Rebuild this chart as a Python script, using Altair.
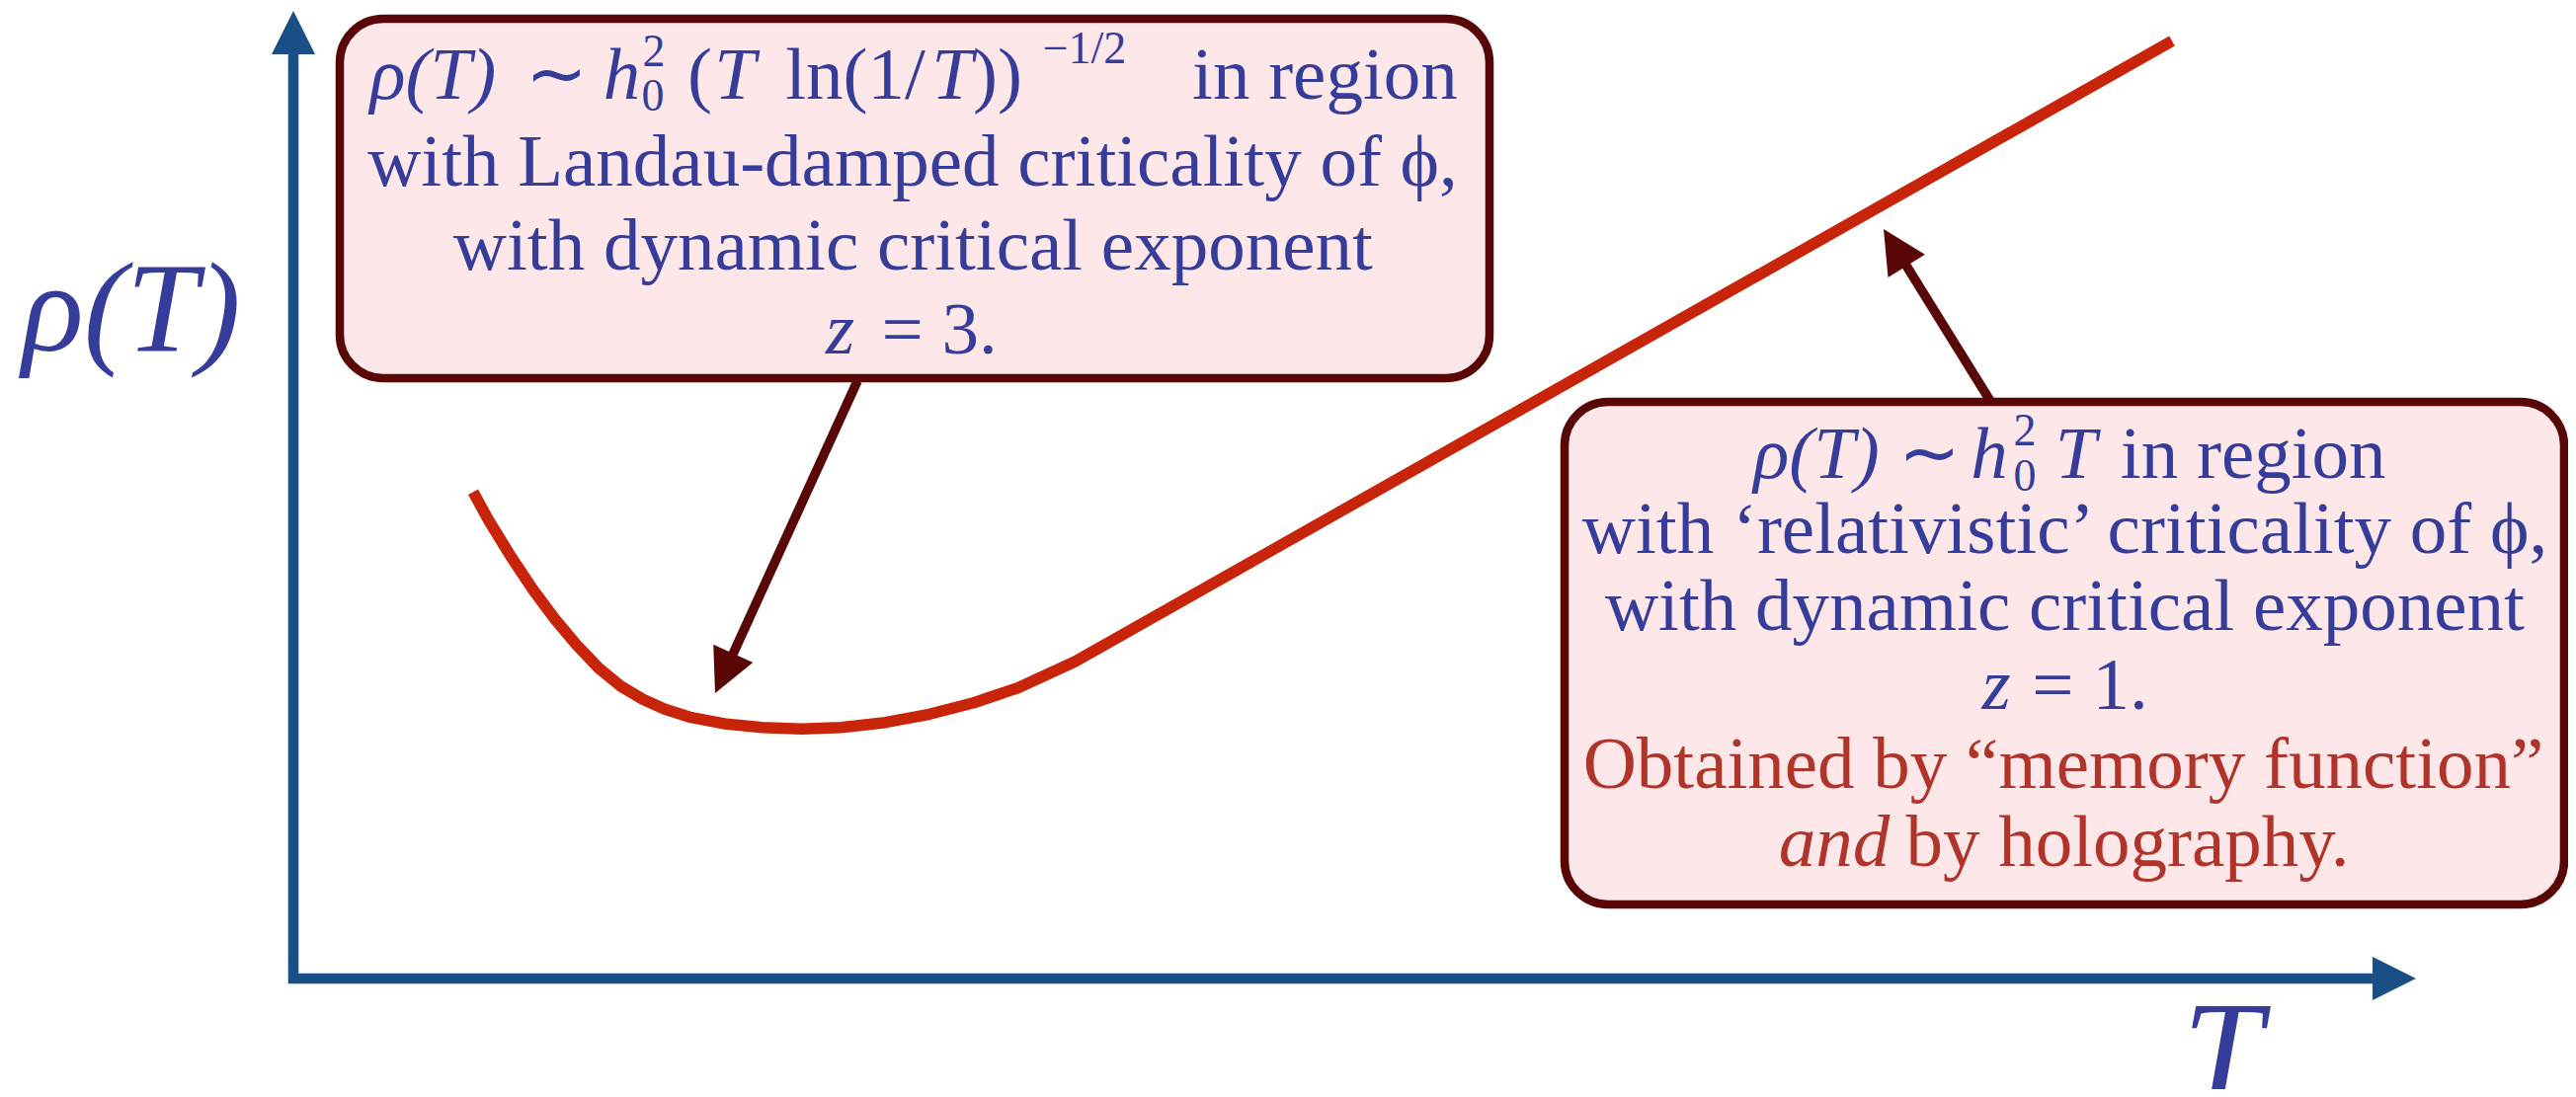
import math
import altair as alt
import pandas as pd

# ---- reference frame: 2608 x 1111 pixels, x to the right, y downward ----

# red resistivity curve rho(T)
curve_x = [479.0, 494.6, 517.0, 539.3, 561.6, 583.9, 606.3, 628.6, 650.9, 673.2,
           700.0, 735.7, 771.4, 811.6, 851.8, 896.4, 941.1, 985.7, 1030.4, 1088.4, 2199.0]
curve_y = [498.3, 526.7, 563.3, 596.7, 626.7, 653.3, 676.7, 695.0, 708.3, 718.3,
           726.7, 733.3, 736.7, 738.3, 736.7, 731.7, 723.3, 711.7, 696.7, 670.0, 41.6]

# axes polyline (top of rho axis -> origin -> end of T axis)
axis_x = [297, 297, 2402]
axis_y = [55, 991, 991]
axis_head_x = [297, 2424]
axis_head_y = [33, 991]
axis_head_angle = [0, 90]

# annotation boxes (stroke centre line)
box_x0 = [344, 1584]
box_x1 = [1508, 2596]
box_y0 = [19, 407]
box_y1 = [383, 916]

# annotation arrows: start (box edge) -> tip
arr_x0 = [868, 2015]
arr_y0 = [386, 406]
arr_x1 = [724, 1907]
arr_y1 = [702, 232]
HEAD = 44

BLUE = "#363c9a"
RED = "#b0342a"
M = 75   # main text size
S = 46   # script size
# text items: text, x centre, baseline y, size, italic, colour
texts = [
    # box 1, line 1
    ("ρ(T)", 438.3, 100.0, M, True, BLUE),
    ("∼", 563.0, 100.0, M, False, BLUE),
    ("h", 629.5, 100.0, M, True, BLUE),
    ("2", 662.0, 67.0, S, False, BLUE),
    ("0", 661.0, 112.0, S, False, BLUE),
    ("(", 708.5, 100.0, M, False, BLUE),
    ("T", 744.0, 100.0, M, True, BLUE),
    ("ln(1/", 866.0, 100.0, M, False, BLUE),
    ("T", 964.0, 100.0, M, True, BLUE),
    ("))", 1010.0, 100.0, M, False, BLUE),
    ("−1/2", 1098.0, 64.0, S, False, BLUE),
    ("in region", 1341.4, 100.0, M, False, BLUE),
    # box 1, other lines
    ("with Landau-damped criticality of ϕ,", 924.0, 188.3, M, False, BLUE),
    ("with dynamic critical exponent", 924.3, 273.3, M, False, BLUE),
    ("z", 850.6, 358.3, M, True, BLUE),
    ("= 3.", 951.2, 358.3, M, False, BLUE),
    # box 2
    ("ρ(T)", 1839.0, 484.0, M, True, BLUE),
    ("∼", 1953.0, 484.0, M, False, BLUE),
    ("h", 2014.0, 484.0, M, True, BLUE),
    ("2", 2050.0, 451.0, S, False, BLUE),
    ("0", 2050.0, 497.0, S, False, BLUE),
    ("T", 2101.5, 484.0, M, True, BLUE),
    ("in region", 2281.2, 484.0, M, False, BLUE),
    ("with ‘relativistic’ criticality of ϕ,", 2090.5, 560.0, M, False, BLUE),
    ("with dynamic critical exponent", 2090.4, 638.3, M, False, BLUE),
    ("z", 2021.0, 718.0, M, True, BLUE),
    ("= 1.", 2116.0, 718.0, M, False, BLUE),
    ("Obtained by “memory function”", 2089.0, 798.3, M, False, RED),
    ("and", 1857.0, 876.7, M, True, RED),
    ("by holography.", 2154.0, 876.7, M, False, RED),
    # axis labels
    ("ρ(T)", 133.0, 355.0, 130, True, BLUE),
    ("T", 2250.0, 1113.0, 145, True, BLUE),
]

AXIS_C = "#1a4f86"
CURVE_C = "#c8240a"
DARK_C = "#580606"
FILL_C = "#fde7e9"

xs = alt.Scale(domain=[0, 2608], range=[-8, 2600], nice=False, zero=False)
ys = alt.Scale(domain=[0, 1111], range=[-8, 1103], nice=False, zero=False)


def X(f="x"):
    return alt.X(f"{f}:Q", scale=xs, axis=None)


def Y(f="y"):
    return alt.Y(f"{f}:Q", scale=ys, axis=None)


curve_df = pd.DataFrame({"x": curve_x, "y": curve_y, "i": range(len(curve_x))})
axis_df = pd.DataFrame({"x": axis_x, "y": axis_y, "i": range(len(axis_x))})
box_df = pd.DataFrame({"x": box_x0, "x2": box_x1, "y": box_y0, "y2": box_y1})

heads = []
for hx, hy, ha in zip(axis_head_x, axis_head_y, axis_head_angle):
    heads.append({"x": hx, "y": hy, "a": ha, "c": AXIS_C})
shafts_rows = []
for x0, y0, x1, y1 in zip(arr_x0, arr_y0, arr_x1, arr_y1):
    dx, dy = x1 - x0, y1 - y0
    L = math.hypot(dx, dy)
    ang = math.degrees(math.atan2(dx, -dy)) % 360
    cx, cy = x1 - dx / L * HEAD / 2, y1 - dy / L * HEAD / 2
    heads.append({"x": cx, "y": cy, "a": ang, "c": DARK_C})
    shafts_rows.append({"x": x0, "y": y0, "x2": cx, "y2": cy})
head_df = pd.DataFrame(heads)
shaft_df = pd.DataFrame(shafts_rows)

text_df = pd.DataFrame(texts, columns=["t", "x", "y", "s", "it", "c"])

axes = alt.Chart(axis_df).mark_line(
    color=AXIS_C, strokeWidth=10.5, strokeJoin="miter", strokeCap="butt"
).encode(x=X(), y=Y(), order="i:Q")

curve = alt.Chart(curve_df).mark_line(
    color=CURVE_C, strokeWidth=11.5, strokeJoin="round", strokeCap="butt"
).encode(x=X(), y=Y(), order="i:Q")

shafts = alt.Chart(shaft_df).mark_rule(color=DARK_C, strokeWidth=9.5).encode(
    x=X(), y=Y(), x2="x2:Q", y2="y2:Q"
)

arrowheads = alt.Chart(head_df).mark_point(
    shape="M0,-1L1,1L-1,1Z", filled=True, opacity=1, size=HEAD * HEAD, strokeWidth=0
).encode(
    x=X(), y=Y(),
    angle=alt.Angle("a:Q", scale=None),
    color=alt.Color("c:N", scale=None),
)

boxes = alt.Chart(box_df).mark_rect(
    fill=FILL_C, stroke=DARK_C, strokeWidth=8.5, cornerRadius=44
).encode(x=X(), y=Y(), x2="x2:Q", y2="y2:Q")


def text_layer(italic):
    return alt.Chart(text_df[text_df["it"] == italic]).mark_text(
        font="Liberation Serif", fontStyle="italic" if italic else "normal",
        align="center", baseline="alphabetic"
    ).encode(
        x=X(), y=Y(),
        text="t:N",
        size=alt.Size("s:Q", scale=None),
        color=alt.Color("c:N", scale=None),
    )


chart = alt.layer(
    axes, curve, shafts, arrowheads, boxes, text_layer(False), text_layer(True)
).properties(
    width=2592, height=1095, padding=0,
    autosize=alt.AutoSizeParams(type="none"),
).configure_view(stroke=None)

chart.save("out.html", embed_options={"renderer": "svg", "actions": False})
